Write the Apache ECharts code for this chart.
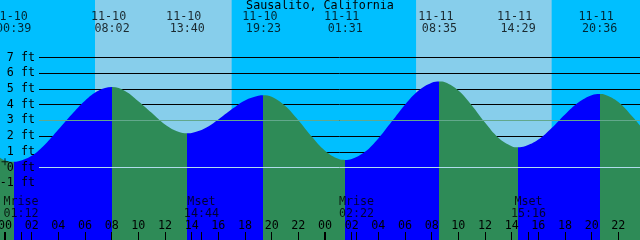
<!DOCTYPE html>
<html><head><meta charset="utf-8">
<script src="https://cdn.jsdelivr.net/npm/echarts@6/dist/echarts.min.js"></script>
<style>html,body{margin:0;padding:0;background:#00bfff}#c{width:640px;height:240px}</style>
</head><body><div id="c"></div>
<script>
// ---- data ----
const stationTitle = 'Sausalito, California';
const tideHours = [-0.375,0,0.65,1,2,3,4,5,6,7,8.03,9,10,11,12,13,13.67,14,15,16,17,18,19,19.38,20,21,22,23,24,25,25.52,26,27,28,29,30,31,32,32.58,33,34,35,36,37,38,38.48,39,40,41,42,43,44,44.6,45,46,47,47.625];
const tideHeights = [0.62,0.45,0.37,0.40,0.75,1.47,2.42,3.38,4.25,4.88,5.12,4.87,4.22,3.48,2.74,2.27,2.18,2.20,2.49,3.05,3.70,4.27,4.57,4.60,4.50,3.93,3.01,1.97,1.07,0.55,0.48,0.54,1.00,1.85,2.92,4.00,4.88,5.39,5.47,5.42,4.90,3.96,2.86,1.90,1.36,1.29,1.35,1.78,2.52,3.38,4.14,4.60,4.68,4.63,4.17,3.30,2.68];
const eventHours = [0.65, 8.033, 13.667, 19.383, 25.517, 32.583, 38.483, 44.6];
const eventKinds = ['low','high','low','high','low','high','low','high'];
const eventDates = ['11-10','11-10','11-10','11-10','11-11','11-11','11-11','11-11'];
const eventTimes = ['00:39','08:02','13:40','19:23','01:31','08:35','14:29','20:36'];
const moonHours = [1.2, 14.733, 26.367, 39.267];
const moonNames = ['Mrise','Mset','Mrise','Mset'];
const moonTimes = ['01:12','14:44','02:22','15:16'];
const sunriseHours = [6.75, 30.83];
const sunsetHours = [17.0, 41.0];
const levelTicks = [-1,0,1,2,3,4,5,6,7];
const hourTicks = [0,2,4,6,8,10,12,14,16,18,20,22,24,26,28,30,32,34,36,38,40,42,44,46];
const midnightHours = [0, 24];
const nowMark = [0, 0.37];
const datumLevel = 0;
const mslLevel = 3;

// ---- layout / style constants ----
const X_MIN = -0.375, X_MAX = 47.625;
const PX_PER_FT = 110 / 7;
const ZERO_Y = 167.5;
const Y_MAX = ZERO_Y / PX_PER_FT;
const Y_MIN = -(240 - ZERO_Y) / PX_PER_FT;
const HEADER_LEVEL = 9.2;
const MOON_LEVEL = -2.55;
const FONT = 'DejaVu Sans Mono';
const FS = 11.7;
const NIGHT = '#00bfff', DAY = '#87ceeb', FLOOD = '#0000ff', EBB = '#2e8b57';

const pieces = [];
pieces.push({ lt: eventHours[0], color: eventKinds[0] === 'low' ? EBB : FLOOD });
for (let i = 0; i < eventHours.length; i++) {
  const p = { gte: eventHours[i], color: eventKinds[i] === 'low' ? FLOOD : EBB };
  if (i + 1 < eventHours.length) p.lt = eventHours[i + 1];
  pieces.push(p);
}

const pad = h => String(h % 24).padStart(2, '0');
const txt = { fontFamily: FONT, fontSize: FS, color: '#000' };
const noZero = { show: false, onZero: false };

const chart = echarts.init(document.getElementById('c'), null, { renderer: 'canvas' });
chart.setOption({
  animation: false,
  backgroundColor: NIGHT,
  title: { text: stationTitle, left: 'center', top: 0, padding: 0,
    textStyle: { fontFamily: FONT, fontSize: FS, fontWeight: 'normal', color: '#000', lineHeight: 12 } },
  grid: [
    { left: 0, right: 0, top: 0, bottom: 0, containLabel: false, outerBoundsMode: 'none' },
    { left: 39, right: 0, top: ZERO_Y - 7 * PX_PER_FT, bottom: 240 - (ZERO_Y + 4 * PX_PER_FT),
      containLabel: false, outerBoundsMode: 'none' }
  ],
  xAxis: [
    { type: 'value', gridIndex: 0, min: X_MIN, max: X_MAX, position: 'bottom', z: 6,
      axisLine: noZero, splitLine: { show: false },
      axisTick: { show: true, inside: true, length: 8, customValues: hourTicks.concat(moonHours),
        lineStyle: { color: '#000', width: 1 } },
      axisLabel: { show: true, inside: true, margin: 14, verticalAlign: 'middle', customValues: hourTicks,
        formatter: v => pad(Math.round(v)), ...txt } },
    { type: 'value', gridIndex: 0, min: X_MIN, max: X_MAX, position: 'bottom', z: 6,
      axisLine: noZero, splitLine: { show: false }, axisLabel: { show: false },
      axisTick: { show: true, inside: true, length: 8, customValues: midnightHours,
        lineStyle: { color: '#000', width: 2 } } },
    { type: 'value', gridIndex: 1, min: 0, max: 1, show: false, axisLine: noZero }
  ],
  yAxis: [
    { type: 'value', gridIndex: 0, min: Y_MIN, max: Y_MAX, position: 'left', z: 6,
      axisLine: noZero, axisTick: { show: false }, splitLine: { show: false },
      axisLabel: { show: true, inside: true, margin: 35, align: 'right', customValues: levelTicks,
        formatter: v => Math.round(v) + ' ft', ...txt } },
    { type: 'value', gridIndex: 1, min: -4, max: 7, interval: 1, position: 'left', z: 1.5,
      axisLine: noZero, axisTick: { show: false }, axisLabel: { show: false },
      splitLine: { show: true, lineStyle: { color: '#000', width: 1 } } }
  ],
  visualMap: { show: false, type: 'piecewise', dimension: 0, seriesIndex: 1, pieces: pieces },
  series: [
    { type: 'line', xAxisIndex: 0, yAxisIndex: 0, z: 0, data: [], silent: true,
      markArea: { silent: true, z: 0.5, itemStyle: { color: DAY },
        data: sunriseHours.map((s, i) => [{ xAxis: s, yAxis: Y_MIN }, { xAxis: sunsetHours[i], yAxis: Y_MAX }]) } },
    { type: 'line', xAxisIndex: 0, yAxisIndex: 0, z: 2, silent: true, smooth: 0.4,
      showSymbol: false, symbol: 'none',
      lineStyle: { width: 0 },
      areaStyle: { origin: 'start', opacity: 1 },
      data: tideHours.map((h, i) => [h, tideHeights[i]]) },
    { type: 'scatter', xAxisIndex: 2, yAxisIndex: 1, z: 5, silent: true, symbolSize: 0,
      data: [[0, datumLevel]],
      markLine: { silent: true, z: 5, symbol: ['none', 'none'], label: { show: false },
        data: [
          { yAxis: mslLevel, lineStyle: { color: '#62a88c', width: 1, type: 'solid' } },
          { yAxis: datumLevel, lineStyle: { color: '#b0dcec', width: 1, type: 'solid' } }
        ] } },
    { type: 'scatter', xAxisIndex: 0, yAxisIndex: 0, z: 6, silent: true, symbolSize: 0,
      data: eventHours.map(h => [h, HEADER_LEVEL]),
      label: { show: true, position: 'inside', lineHeight: 12, ...txt,
        formatter: p => eventDates[p.dataIndex] + ' \n' + eventTimes[p.dataIndex] } },
    { type: 'scatter', xAxisIndex: 0, yAxisIndex: 0, z: 6, silent: true, symbolSize: 0,
      data: moonHours.map(h => [h, MOON_LEVEL]),
      label: { show: true, position: 'inside', lineHeight: 12, ...txt,
        formatter: p => moonNames[p.dataIndex] + '\n' + moonTimes[p.dataIndex] } },
    { type: 'scatter', xAxisIndex: 0, yAxisIndex: 0, z: 6, silent: true,
      symbol: 'path://M3,0h1v7h-1zM0,3h7v1h-7z', symbolSize: [7, 7],
      itemStyle: { color: '#000' }, data: [nowMark] }
  ]
});
</script></body></html>
